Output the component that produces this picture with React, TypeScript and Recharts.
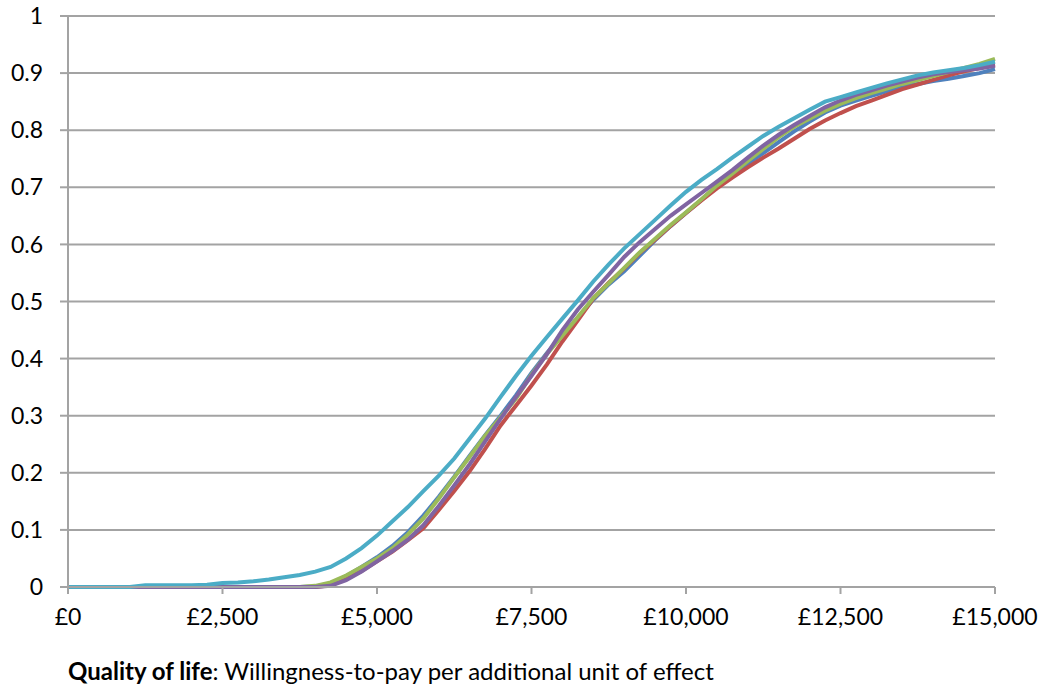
import { LineChart, Line, XAxis, YAxis, CartesianGrid } from "recharts";

// willingness-to-pay grid, £250 steps
const wtp = [
  0, 250, 500, 750, 1000, 1250, 1500, 1750, 2000, 2250, 2500, 2750, 3000, 3250, 3500, 3750,
  4000, 4250, 4500, 4750, 5000, 5250, 5500, 5750, 6000, 6250, 6500, 6750, 7000, 7250, 7500, 7750,
  8000, 8250, 8500, 8750, 9000, 9250, 9500, 9750, 10000, 10250, 10500, 10750, 11000, 11250, 11500, 11750,
  12000, 12250, 12500, 12750, 13000, 13250, 13500, 13750, 14000, 14250, 14500, 14750, 15000,
];

const blue = [
  0, 0, 0, 0, 0, 0, 0, 0, 0, 0, 0, 0, 0, 0, 0, 0,
  0.001, 0.006, 0.019, 0.035, 0.052, 0.072, 0.096, 0.125, 0.158, 0.193, 0.23, 0.266, 0.3, 0.336, 0.375, 0.41,
  0.442, 0.472, 0.503, 0.53, 0.553, 0.58, 0.607, 0.632, 0.655, 0.678, 0.702, 0.722, 0.741, 0.76, 0.779, 0.798,
  0.815, 0.831, 0.843, 0.852, 0.86, 0.868, 0.876, 0.881, 0.886, 0.89, 0.895, 0.9, 0.907,
];

const red = [
  0, 0, 0, 0, 0, 0, 0, 0, 0, 0, 0, 0, 0, 0, 0, 0,
  0, 0.003, 0.014, 0.028, 0.045, 0.062, 0.082, 0.103, 0.135, 0.168, 0.203, 0.242, 0.283, 0.318, 0.353, 0.39,
  0.43, 0.467, 0.505, 0.533, 0.558, 0.585, 0.608, 0.632, 0.655, 0.677, 0.698, 0.717, 0.735, 0.752, 0.768, 0.785,
  0.802, 0.817, 0.83, 0.842, 0.852, 0.862, 0.872, 0.88, 0.888, 0.896, 0.903, 0.909, 0.915,
];

const green = [
  0, 0, 0, 0, 0, 0, 0, 0, 0, 0, 0, 0, 0, 0, 0, 0,
  0.002, 0.008, 0.02, 0.035, 0.05, 0.068, 0.092, 0.12, 0.155, 0.192, 0.228, 0.265, 0.297, 0.33, 0.372, 0.408,
  0.44, 0.473, 0.506, 0.532, 0.559, 0.586, 0.61, 0.634, 0.656, 0.679, 0.703, 0.724, 0.746, 0.767, 0.788, 0.806,
  0.82, 0.834, 0.846, 0.856, 0.865, 0.873, 0.881, 0.888, 0.895, 0.902, 0.909, 0.916, 0.925,
];

const purple = [
  0, 0, 0, 0, 0, 0, 0, 0, 0, 0, 0, 0, 0, 0, 0, 0,
  0, 0.002, 0.012, 0.027, 0.045, 0.063, 0.083, 0.108, 0.142, 0.178, 0.215, 0.255, 0.295, 0.333, 0.37, 0.408,
  0.45, 0.486, 0.517, 0.547, 0.578, 0.604, 0.627, 0.65, 0.67, 0.69, 0.71, 0.73, 0.752, 0.773, 0.792, 0.809,
  0.825, 0.84, 0.852, 0.862, 0.87, 0.878, 0.885, 0.892, 0.898, 0.902, 0.905, 0.908, 0.913,
];

const cyan = [
  0, 0, 0, 0, 0, 0.003, 0.003, 0.003, 0.003, 0.004, 0.007, 0.008, 0.01, 0.013, 0.017, 0.021,
  0.027, 0.035, 0.05, 0.068, 0.09, 0.115, 0.14, 0.168, 0.195, 0.225, 0.26, 0.295, 0.333, 0.37, 0.405, 0.438,
  0.47, 0.502, 0.535, 0.565, 0.593, 0.618, 0.643, 0.668, 0.692, 0.713, 0.732, 0.752, 0.771, 0.79, 0.806, 0.821,
  0.836, 0.85, 0.858, 0.866, 0.874, 0.882, 0.889, 0.896, 0.901, 0.905, 0.909, 0.914, 0.92,
];

const xTicks = [0, 2500, 5000, 7500, 10000, 12500, 15000];
const yTicks = [0, 0.1, 0.2, 0.3, 0.4, 0.5, 0.6, 0.7, 0.8, 0.9, 1];

const data = wtp.map((w, i) => ({
  wtp: w,
  blue: blue[i],
  red: red[i],
  green: green[i],
  purple: purple[i],
  cyan: cyan[i],
}));

const GRID = "#a3a3a3";
const FONT = "Lato, 'Open Sans', sans-serif";

const formatPounds = (v: number) => "£" + v.toLocaleString("en-GB");

export default function App() {
  const tickStyle = { fill: "#000", fontSize: 23, fontFamily: FONT };
  return (
    <div style={{ position: "absolute", left: 0, top: 0, width: 1047, height: 693, background: "#fff" }}>
      <LineChart
        width={1047}
        height={640}
        data={data}
        margin={{ top: 16, right: 52, left: 0, bottom: 0 }}
      >
        <CartesianGrid vertical={false} stroke={GRID} strokeWidth={2} />
        <XAxis
          dataKey="wtp"
          type="number"
          domain={[0, 15000]}
          ticks={xTicks}
          tickFormatter={formatPounds}
          height={53}
          tickSize={7}
          tickMargin={15}
          stroke={GRID}
          strokeWidth={2}
          tick={tickStyle}
          interval={0}
        />
        <YAxis
          type="number"
          domain={[0, 1]}
          ticks={yTicks}
          width={68}
          tickSize={8}
          tickMargin={17}
          stroke={GRID}
          strokeWidth={2}
          tick={tickStyle}
          interval={0}
        />
        <Line type="linear" dataKey="blue" stroke="#4f81bd" strokeWidth={4} dot={false} isAnimationActive={false} />
        <Line type="linear" dataKey="red" stroke="#c0504d" strokeWidth={4} dot={false} isAnimationActive={false} />
        <Line type="linear" dataKey="green" stroke="#9bbb59" strokeWidth={4} dot={false} isAnimationActive={false} />
        <Line type="linear" dataKey="purple" stroke="#8064a2" strokeWidth={4} dot={false} isAnimationActive={false} />
        <Line type="linear" dataKey="cyan" stroke="#4bacc6" strokeWidth={4} dot={false} isAnimationActive={false} />
      </LineChart>
      <div
        style={{
          position: "absolute",
          left: 68,
          top: 656,
          fontFamily: FONT,
          fontSize: 24,
          color: "#000",
          whiteSpace: "nowrap",
        }}
      >
        <b>Quality of life</b>: Willingness-to-pay per additional unit of effect
      </div>
    </div>
  );
}
